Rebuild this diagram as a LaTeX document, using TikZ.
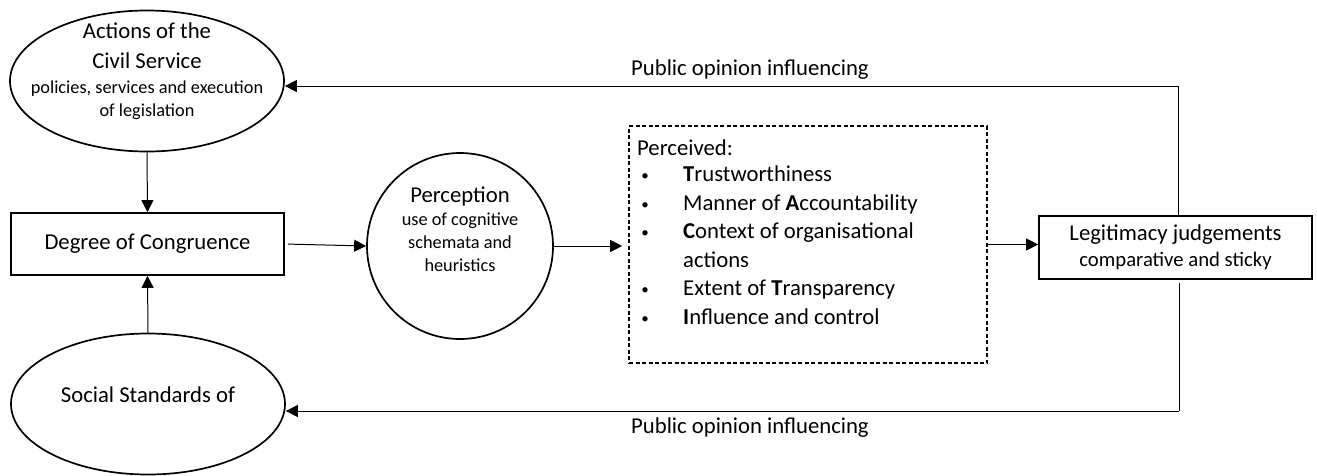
\documentclass[tikz,border=0pt]{standalone}
\usepackage{fontspec}
\setmainfont{Carlito}
\usetikzlibrary{shapes.geometric,arrows.meta}

\newcommand\bigtxt{\fontsize{22.7}{28.5}\selectfont}
\newcommand\smalltxt{\fontsize{18.3}{23}\selectfont}
\newcommand\perceiveditem[1]{\hspace*{8pt}\makebox[0pt]{\raisebox{1pt}{\fontsize{15}{15}\selectfont\textbullet}}\hspace*{38pt}#1}

\begin{document}
\begin{tikzpicture}
    [x=1pt, y=-1pt,
    every node/.style={font=\bigtxt, align=center, inner sep=0pt},
    ovalnode/.style={ellipse, draw, line width=1.7pt, minimum width=274pt, minimum height=141pt},
    boxnode/.style={rectangle, draw, line width=1.7pt, minimum width=273pt, minimum height=62pt},
    flow/.style={-{Triangle[length=12pt,width=12pt]}, line width=1pt},
    feedback/.style={line width=1pt}
    ]
    \useasboundingbox (0,0) rectangle (1317,475);

    \node (actions) [ovalnode] at (147,81) {};
    \node (actionstext) [font=\smalltxt] at (147,71)
        {{\bigtxt Actions of the}\\[7pt]
         {\bigtxt Civil Service}\\[2pt]
         policies, services and execution\\
         of legislation};

    \node (degree) [boxnode] at (147.5,244) {Degree of Congruence};

    \node (social) [ovalnode] at (148,404) {};
    \node (socialtext) at (148,395) {Social Standards of};

    \node (percep) [circle, draw, line width=1.7pt, minimum size=186pt] at (460,246) {};
    \node (perceptext) [font=\smalltxt] at (460,229)
        {{\bigtxt Perception}\\
         use of cognitive\\
         schemata and\\
         heuristics};

    \node (perceived) [rectangle, draw, dash pattern=on 4pt off 2.5pt, line width=1.6pt,
        minimum width=358pt, minimum height=237pt] at (808,244.5) {};
    \node (perceivedtext) [anchor=north west, align=left] at (637,140)
        {Perceived:\\[-2.5pt]
         \perceiveditem{\textbf{T}rustworthiness}\\
         \perceiveditem{Manner of \textbf{A}ccountability}\\
         \perceiveditem{\textbf{C}ontext of organisational}\\
         \hspace*{46pt}actions\\
         \perceiveditem{Extent of \textbf{T}ransparency}\\
         \perceiveditem{\textbf{I}nfluence and control}};

    \node (legit) [boxnode, minimum height=63pt] at (1175.5,247.5)
        {Legitimacy judgements\\[-3pt]
         {\fontsize{20.7}{25}\selectfont comparative and sticky}};

    \coordinate (topturn) at (1178,86);
    \coordinate (botturn) at (1179,411);

    \node (topinfl) at (750,70) {Public opinion influencing};
    \node (botinfl) at (750,428) {Public opinion influencing};

    \draw [flow] (actions.south) -- (degree.north);
    \draw [flow] (social.north) -- (degree.south);
    \draw [flow, shorten <=3pt] (degree.east) -- (percep.west);
    \draw [flow, shorten >=6pt] (percep.east) -- (percep.east -| perceived.west);
    \draw [flow] (perceived.east) -- (perceived.east -| legit.west);

    \draw [feedback] (legit.north -| topturn) -- (topturn);
    \draw [flow] (topturn) -- (topturn -| actions.east);
    \draw [feedback, shorten <=3pt] (legit.south -| botturn) -- (botturn);
    \draw [flow] (botturn) -- (botturn -| social.east);
\end{tikzpicture}
\end{document}
